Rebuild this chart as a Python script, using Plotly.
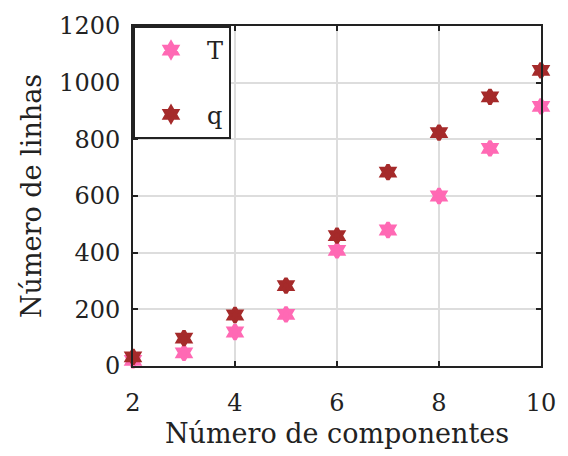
import plotly.graph_objects as go

componentes = [2, 3, 4, 5, 6, 7, 8, 9, 10]
linhas_T = [20, 46, 120, 182, 408, 480, 600, 768, 916]
linhas_q = [32, 98, 180, 284, 460, 684, 824, 950, 1043]

FONT = "DejaVu Serif"
INK = "#222222"

fig = go.Figure()
fig.add_trace(go.Scatter(
    x=componentes, y=linhas_T, mode="markers", name="T", legendgroup="T",
    marker=dict(symbol="hexagram", size=11, color="#FF69B4",
                line=dict(width=3.5, color="#FF69B4")),
    cliponaxis=False,
))
fig.add_trace(go.Scatter(
    x=componentes, y=linhas_q, mode="markers", name="q", legendgroup="q",
    marker=dict(symbol="hexagram", size=11, color="#A52A2A",
                line=dict(width=3.5, color="#A52A2A")),
    cliponaxis=False,
))

axis_common = dict(
    showline=True, linecolor=INK, linewidth=2, mirror="ticks",
    ticks="inside", ticklen=5, tickwidth=2, tickcolor=INK,
    showgrid=True, gridcolor="#DDDDDD", gridwidth=2,
    zeroline=False,
    tickfont=dict(family=FONT, size=24, color=INK),
)

fig.update_layout(
    width=568, height=456,
    margin=dict(l=133, r=25, t=24, b=90),
    paper_bgcolor="white", plot_bgcolor="white",
    font=dict(family=FONT, color=INK),
    showlegend=True,
    legend=dict(
        x=0, y=1, xanchor="left", yanchor="top",
        bordercolor=INK, borderwidth=2, bgcolor="white",
        font=dict(family=FONT, size=24, color=INK),
        tracegroupgap=30, traceorder="grouped", itemwidth=62,
    ),
    xaxis=dict(range=[2, 10], tickvals=[2, 4, 6, 8, 10], ticklabelstandoff=14,
               title=dict(text="Número de componentes", font=dict(family=FONT, size=27, color=INK), standoff=8),
               **axis_common),
    yaxis=dict(range=[0, 1200], tickvals=[0, 200, 400, 600, 800, 1000, 1200], ticklabelstandoff=6,
               title=dict(text="Número de linhas", font=dict(family=FONT, size=27, color=INK), standoff=10),
               **axis_common),
)

fig.write_html("out.html")
